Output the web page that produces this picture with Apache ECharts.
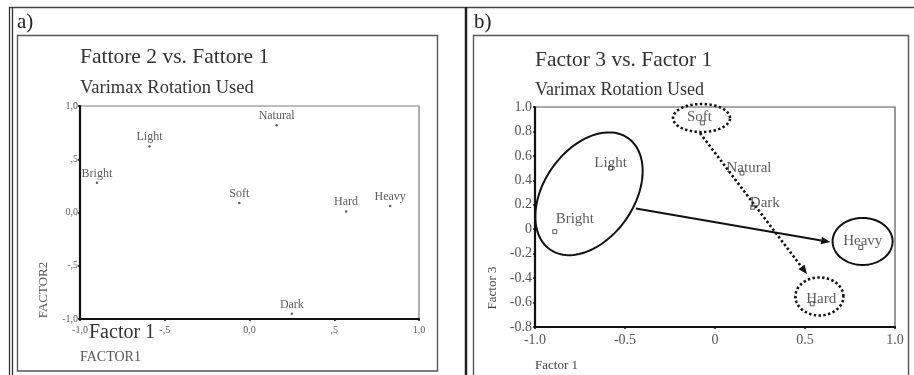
<!DOCTYPE html>
<html>
<head>
<meta charset="utf-8">
<title>Varimax factor plots</title>
<script src="https://cdn.jsdelivr.net/npm/echarts@6/dist/echarts.min.js"></script>
<style>
  html, body { margin: 0; padding: 0; background: #fff; }
  #chart { width: 914px; height: 375px; }
</style>
</head>
<body>
<div id="chart"></div>
<script>
// Descriptive words, same order in both panels
const words = ['Bright', 'Light', 'Natural', 'Soft', 'Dark', 'Hard', 'Heavy'];

// Panel a: loadings on Factor 1 and Factor 2
const factor1A = [-0.90, -0.59, 0.16, -0.06, 0.25, 0.57, 0.83];
const factor2A = [0.28, 0.62, 0.82, 0.09, -0.95, 0.01, 0.06];

// Panel b: loadings on Factor 1 and Factor 3
const factor1B = [-0.89, -0.58, 0.15, -0.07, 0.21, 0.54, 0.81];
const factor3B = [-0.02, 0.50, 0.46, 0.87, 0.18, -0.61, -0.15];

// Tick labels
const ticksA = ['-1,0', '-,5', '0,0', ',5', '1,0'];
const ticksBX = ['-1.0', '-0.5', '0', '0.5', '1.0'];
const ticksBY = ['-0.8', '-0.6', '-0.4', '-0.2', '0', '0.2', '0.4', '0.6', '0.8', '1.0'];

// Panel b: centres of the rings drawn round word groups (Factor 1, Factor 3)
const ringCentres = [[-0.70, 0.29], [0.82, -0.10], [-0.075, 0.91], [0.58, -0.55]];
// Panel b: arrows, start and end (Factor 1, Factor 3)
const shiftArrows = [[-0.44, 0.17, 0.64, -0.105], [-0.083, 0.786, 0.511, -0.367]];

// ---- styling ----
const SERIF = '"Liberation Serif", "DejaVu Serif", "Times New Roman", serif';
const ringLook = [
  { rx: 68, ry: 45, angle: 55, dotted: false },
  { rx: 30, ry: 23.5, angle: 0, dotted: false },
  { rx: 28.5, ry: 14, angle: 0, dotted: true },
  { rx: 24, ry: 19, angle: 0, dotted: true }
];
const arrowLook = [{ dotted: false }, { dotted: true }];
const labelShiftB = [[20, -13], [0, -5], [7, -5], [-3, -6], [12, -4], [9, -5], [2, -6]];

function tickFormatter(list, min, step) {
  return function (v) {
    const i = Math.round((v - min) / step);
    return list[i] !== undefined ? list[i] : '';
  };
}

function valueAxis(grid, min, max, step, labels, label) {
  return {
    type: 'value', gridIndex: grid, min: min, max: max, interval: step,
    axisLine: { show: true, onZero: false, lineStyle: { color: '#111', width: 2.2 } },
    axisTick: { show: true, length: 2, lineStyle: { color: '#111', width: 1.5 } },
    splitLine: { show: false },
    axisLabel: Object.assign({
      fontFamily: SERIF, formatter: tickFormatter(labels, min, step)
    }, label)
  };
}

const chart = echarts.init(document.getElementById('chart'), null, { renderer: 'canvas' });

const textEl = (text, x, y, size, color, extra) => Object.assign({
  type: 'text', x: x, y: y, silent: true,
  style: { text: text, font: size + 'px ' + SERIF, fill: color, verticalAlign: 'middle', align: 'left' }
}, extra || {});

chart.setOption({
  animation: false,
  backgroundColor: '#fff',
  grid: [
    { left: 80, top: 106, width: 339, height: 213, show: true, borderColor: '#7a7a7a', borderWidth: 1.2 },
    { left: 535, top: 107, width: 360, height: 220, show: true, borderColor: '#555', borderWidth: 1.2 }
  ],
  xAxis: [
    valueAxis(0, -1, 1, 0.5, ticksA, { fontSize: 10, color: '#5a5a5a', margin: 6 }),
    valueAxis(1, -1, 1, 0.5, ticksBX, { fontSize: 14, color: '#555', margin: 6 })
  ],
  yAxis: [
    valueAxis(0, -1, 1, 0.5, ticksA, { fontSize: 10, color: '#5a5a5a', margin: 2 }),
    valueAxis(1, -0.8, 1, 0.2, ticksBY, { fontSize: 14, color: '#555', margin: 3 })
  ],
  series: [
    {
      type: 'scatter', xAxisIndex: 0, yAxisIndex: 0,
      symbol: 'circle', symbolSize: 2.5,
      itemStyle: { color: '#333' },
      data: factor1A.map((x, i) => ({ value: [x, factor2A[i]], name: words[i] })),
      label: {
        show: true, position: 'top', distance: 2,
        formatter: p => p.name,
        fontFamily: SERIF, fontSize: 12, color: '#333'
      }
    },
    {
      type: 'scatter', xAxisIndex: 1, yAxisIndex: 1,
      symbol: 'rect', symbolSize: 4,
      itemStyle: { color: '#fff', borderColor: '#333', borderWidth: 1 },
      data: factor1B.map((x, i) => ({
        value: [x, factor3B[i]], name: words[i],
        label: { offset: labelShiftB[i] }
      })),
      label: {
        show: true, position: 'inside',
        formatter: p => p.name,
        fontFamily: SERIF, fontSize: 15, color: '#333'
      },
      z: 4
    },
    {
      // rings round word groups
      type: 'custom', xAxisIndex: 1, yAxisIndex: 1, silent: true, z: 3,
      data: ringCentres,
      renderItem: function (params, api) {
        const c = api.coord([api.value(0), api.value(1)]);
        const s = ringLook[params.dataIndex];
        const th = s.angle * Math.PI / 180;
        const pts = [];
        for (let k = 0; k <= 120; k++) {
          const t = k / 120 * Math.PI * 2;
          const u = s.rx * Math.cos(t), v = s.ry * Math.sin(t);
          pts.push([c[0] + u * Math.cos(th) - v * Math.sin(th),
                    c[1] - (u * Math.sin(th) + v * Math.cos(th))]);
        }
        return {
          type: 'polyline', shape: { points: pts },
          style: {
            fill: 'none', stroke: '#111',
            lineWidth: s.dotted ? 2.6 : 2,
            lineDash: s.dotted ? [2.4, 2.4] : null
          }
        };
      }
    },
    {
      // arrows between groups
      type: 'custom', xAxisIndex: 1, yAxisIndex: 1, silent: true, z: 3,
      data: shiftArrows,
      renderItem: function (params, api) {
        const a = api.coord([api.value(0), api.value(1)]);
        const b = api.coord([api.value(2), api.value(3)]);
        const dotted = arrowLook[params.dataIndex].dotted;
        const dx = b[0] - a[0], dy = b[1] - a[1];
        const len = Math.sqrt(dx * dx + dy * dy);
        const ux = dx / len, uy = dy / len;
        const hl = 9, hw = 3.8;
        const base = [b[0] - ux * hl, b[1] - uy * hl];
        return {
          type: 'group',
          children: [
            {
              type: 'line',
              shape: { x1: a[0], y1: a[1], x2: base[0], y2: base[1] },
              style: {
                stroke: '#111', lineWidth: dotted ? 2.6 : 2,
                lineDash: dotted ? [2.4, 2.4] : null
              }
            },
            {
              type: 'polygon',
              shape: {
                points: [b, [base[0] - uy * hw, base[1] + ux * hw], [base[0] + uy * hw, base[1] - ux * hw]]
              },
              style: { fill: '#111' }
            }
          ]
        };
      }
    }
  ],
  graphic: [
    // page frame
    { type: 'line', silent: true, shape: { x1: 9, y1: 7.5, x2: 914, y2: 7.5 }, style: { stroke: '#444', lineWidth: 1.4 } },
    { type: 'line', silent: true, shape: { x1: 9.5, y1: 7, x2: 9.5, y2: 375 }, style: { stroke: '#333', lineWidth: 1.3 } },
    { type: 'line', silent: true, shape: { x1: 12.5, y1: 7, x2: 12.5, y2: 375 }, style: { stroke: '#333', lineWidth: 1.3 } },
    { type: 'line', silent: true, shape: { x1: 466, y1: 7, x2: 466, y2: 375 }, style: { stroke: '#222', lineWidth: 2.5 } },
    { type: 'rect', silent: true, shape: { x: 17.5, y: 35.5, width: 420, height: 335.5 }, style: { fill: 'none', stroke: '#555', lineWidth: 1.4 } },
    { type: 'rect', silent: true, shape: { x: 473.5, y: 35.5, width: 435, height: 345 }, style: { fill: 'none', stroke: '#555', lineWidth: 1.4 } },

    // panel tags
    textEl('a)', 17, 22, 21, '#222'),
    textEl('b)', 474, 22, 21, '#222'),

    // panel a titles and axis names
    textEl('Fattore 2 vs. Fattore 1', 80, 57, 21.5, '#333'),
    textEl('Varimax Rotation Used', 80, 88, 18.5, '#333'),
    textEl('Factor 1', 89, 333, 20, '#333'),
    textEl('FACTOR1', 80, 357, 14, '#555'),
    textEl('FACTOR2', 44, 290, 13, '#555', { rotation: Math.PI / 2, style: { text: 'FACTOR2', font: '13px ' + SERIF, fill: '#555', align: 'center', verticalAlign: 'middle' } }),

    // panel b titles and axis names
    textEl('Factor 3 vs. Factor 1', 535, 60, 21.5, '#333'),
    textEl('Varimax Rotation Used', 535, 90, 18, '#333'),
    textEl('Factor 1', 535, 366, 13, '#444'),
    textEl('Factor 3', 493, 288, 13, '#444', { rotation: Math.PI / 2, style: { text: 'Factor 3', font: '13px ' + SERIF, fill: '#444', align: 'center', verticalAlign: 'middle' } })
  ]
});
</script>
</body>
</html>
